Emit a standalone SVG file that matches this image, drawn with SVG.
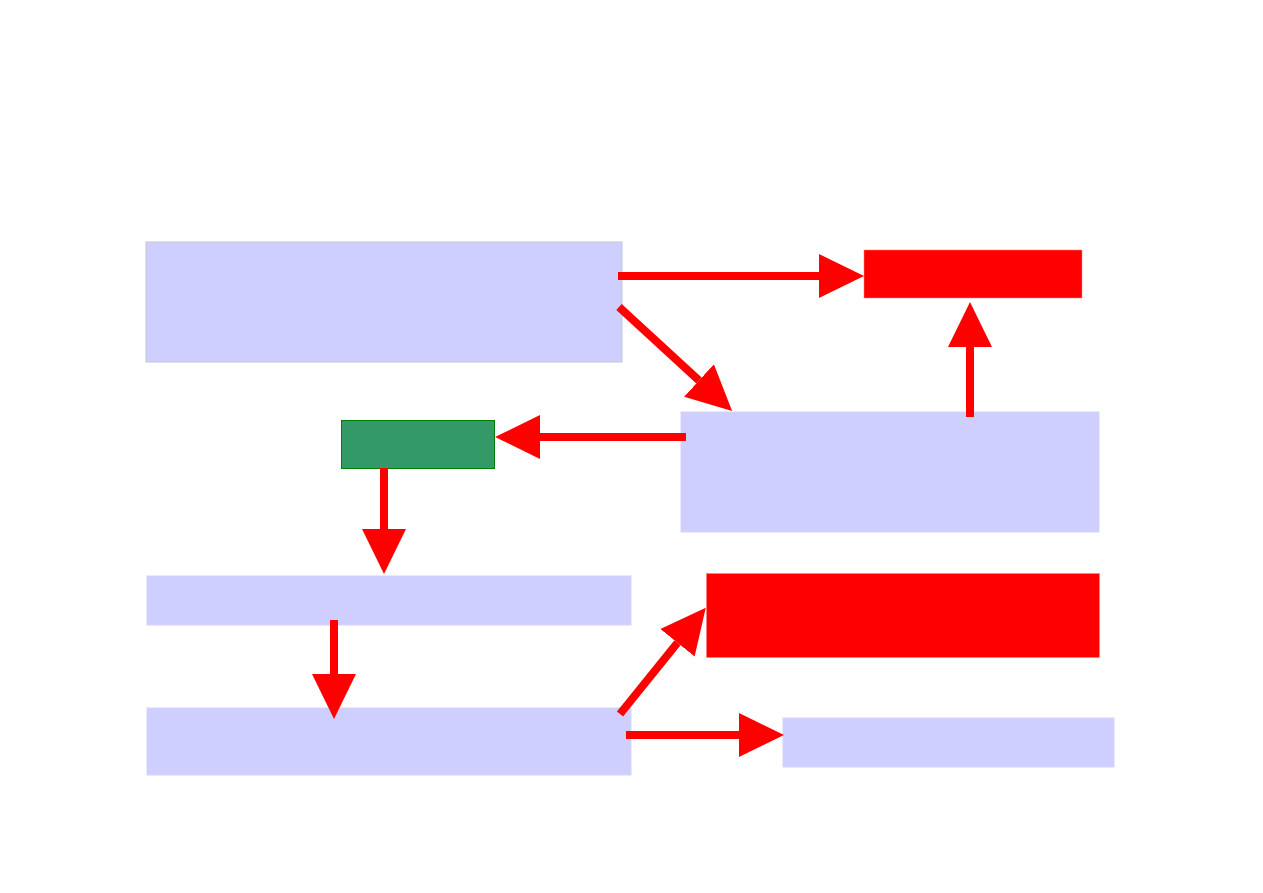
<svg xmlns="http://www.w3.org/2000/svg" width="1263" height="893" viewBox="0 0 1263 893">
<style>
.lav{fill:#CFCFFF;stroke:#D4D4F8;stroke-width:1}
.lavA{fill:#CFCFFF;stroke:#C4C4D4;stroke-width:1}
.red{fill:#FF0000;stroke:#FF8080;stroke-width:0.5}
.green{fill:#339966;stroke:#008000;stroke-width:1}
.conn{stroke:#FF0000;stroke-width:8;fill:none;marker-end:url(#ah)}
</style>
<defs>
<marker id="ah" markerUnits="userSpaceOnUse" markerWidth="46" markerHeight="46" refX="0" refY="22" orient="auto" viewBox="0 0 46 44">
<path d="M0,0 L45,22 L0,44 z" fill="#FF0000"/>
</marker>
</defs>
<rect width="1263" height="893" fill="#FFFFFF"/>
<g id="nodeA"><rect class="lavA" x="146" y="242" width="476" height="120"/></g>
<g id="nodeB"><rect class="red" x="864" y="250" width="218" height="48"/></g>
<g id="nodeC"><rect class="lav" x="681" y="412" width="418" height="120"/></g>
<g id="nodeD"><rect class="green" x="341.5" y="420.5" width="153" height="48"/></g>
<g id="nodeE"><rect class="lav" x="147" y="576" width="484" height="49"/></g>
<g id="nodeF"><rect class="lav" x="147" y="708" width="484" height="67"/></g>
<g id="nodeG"><rect class="red" x="706.5" y="573.5" width="393" height="84"/></g>
<g id="nodeH"><rect class="lav" x="783" y="718" width="331" height="49"/></g>
<g id="connectors">
<path class="conn" d="M618,276 L819,276"/>
<path class="conn" d="M619,307 L699,380.5"/>
<path class="conn" d="M970,417 L970,347"/>
<path class="conn" d="M686,437 L540,437"/>
<path class="conn" d="M384,468 L384,529"/>
<path class="conn" d="M334,620 L334,674"/>
<path class="conn" d="M620,714 L677.5,642.8"/>
<path class="conn" d="M626,735 L739,735"/>
</g>
</svg>
